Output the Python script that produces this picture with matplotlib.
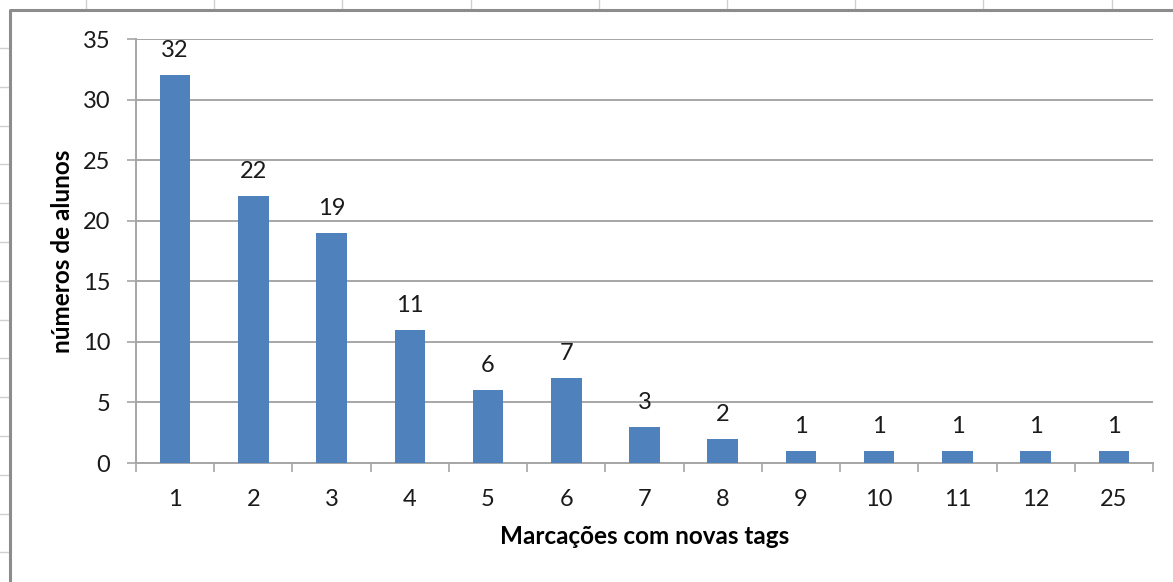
import matplotlib.pyplot as plt
from matplotlib.lines import Line2D
import numpy as np

# dados
marcacoes = ['1', '2', '3', '4', '5', '6', '7', '8', '9', '10', '11', '12', '25']
alunos = [32, 22, 19, 11, 6, 7, 3, 2, 1, 1, 1, 1, 1]

plt.rcParams['font.family'] = ['Lato', 'DejaVu Sans']

W, H = 1173, 582
fig = plt.figure(figsize=(W / 100, H / 100), dpi=100)

# spreadsheet background marks and chart frame
for x in 86 + 128.2 * np.arange(9):
    fig.add_artist(Line2D([x / W, x / W], [1, 1 - 9 / H], color='#d0d0d0', lw=1))
for y in 48 + 38.8 * np.arange(14):
    fig.add_artist(Line2D([0, 8 / W], [1 - y / H, 1 - y / H], color='#d0d0d0', lw=1))
fig.add_artist(Line2D([10 / W, 10 / W, 1], [0, 1 - 10 / H, 1 - 10 / H],
                      color='#8c8c8c', lw=2.2))

ax = fig.add_axes([136 / W, 1 - 463 / H, (1153 - 136) / W, (463 - 39) / H])
x = np.arange(len(marcacoes))
ax.bar(x, alunos, width=0.39, color='#4f81bd', zorder=3)

for xi, v in zip(x, alunos):
    ax.annotate(str(v), (xi, v), xytext=(0, 13), textcoords='offset points',
                ha='center', va='baseline', fontsize=17, color='#1a1a1a')

ax.set_xlim(-0.5, len(marcacoes) - 0.5)
ax.set_ylim(0, 35)
ax.set_yticks(range(0, 36, 5))
ax.yaxis.grid(True, color='#a6a6a6', lw=1.4, zorder=0)
ax.set_xticks(x)
ax.set_xticklabels(marcacoes)
ax.set_xticks(np.arange(-0.5, len(marcacoes)), minor=True)
ax.tick_params(axis='x', which='major', length=0, pad=19, labelsize=17, labelcolor='#1a1a1a')
ax.tick_params(axis='x', which='minor', length=6.5, width=1.2, color='#a6a6a6', direction='out')
ax.tick_params(axis='y', length=6.5, width=1.2, color='#a6a6a6', pad=12, labelsize=17,
               labelcolor='#1a1a1a')

for s in ['top', 'right']:
    ax.spines[s].set_visible(False)
for s in ['left', 'bottom']:
    ax.spines[s].set_color('#a6a6a6')
    ax.spines[s].set_linewidth(1.4)

ax.set_xlabel('Marcações com novas tags', fontsize=17.5, fontweight='bold')
ax.set_ylabel('números de alunos', fontsize=17.5, fontweight='bold')
ax.xaxis.set_label_coords(0.5, -(525 - 463) / (463 - 39))
ax.yaxis.set_label_coords(-(136 - 74) / (1153 - 136), 0.5)

fig.savefig('out.png', dpi=100)
